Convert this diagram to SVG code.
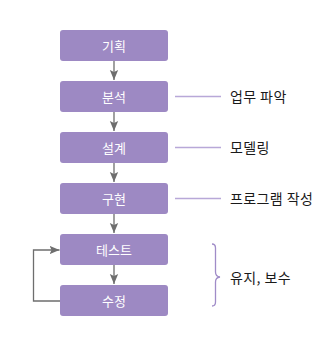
<svg xmlns="http://www.w3.org/2000/svg" width="328" height="347" viewBox="0 0 328 347">
<defs>
<style>
.box{fill:#9d89c3;}
.bt{font-family:"Noto Sans CJK KR","Noto Sans",sans-serif;font-size:13px;fill:#ffffff;text-anchor:middle;}
.lt{font-family:"Noto Sans CJK KR","Noto Sans",sans-serif;font-size:14px;letter-spacing:0.4px;fill:#1a1a1a;}
.conn{stroke:#6e6e6e;stroke-width:1.3;fill:none;}
.lead{stroke:#b8a8d8;stroke-width:1.3;fill:none;}
.brace{stroke:#a08cc8;stroke-width:1.3;fill:none;}
</style>
<marker id="ah" markerWidth="10" markerHeight="10" viewBox="0 0 12 10" refX="12" refY="5" markerUnits="userSpaceOnUse" orient="auto">
<path d="M0,0 L12,5 L0,10 L2.5,5 Z" fill="#6e6e6e"/>
</marker>
</defs>
<g id="connectors">
<line class="conn" x1="114" y1="61" x2="114" y2="80" marker-end="url(#ah)"/>
<line class="conn" x1="114" y1="112" x2="114" y2="131" marker-end="url(#ah)"/>
<line class="conn" x1="114" y1="163" x2="114" y2="182" marker-end="url(#ah)"/>
<line class="conn" x1="114" y1="214" x2="114" y2="233" marker-end="url(#ah)"/>
<line class="conn" x1="114" y1="265" x2="114" y2="284" marker-end="url(#ah)"/>
<path class="conn" d="M60,301 H33.5 V250 H59.5" marker-end="url(#ah)"/>
<line class="lead" x1="175" y1="96.5" x2="221" y2="96.5"/>
<line class="lead" x1="175" y1="147.5" x2="221" y2="147.5"/>
<line class="lead" x1="175" y1="198.5" x2="221" y2="198.5"/>
<path class="brace" d="M212,244 Q215.5,244 215.5,248 V272 Q215.5,276.5 220,277 Q215.5,277.5 215.5,282 V302 Q215.5,306 212,306"/>
</g>
<g id="n1"><rect class="box" x="60" y="30" width="108" height="31" rx="3"/><text class="bt" x="114" y="50.5">기획</text></g>
<g id="n2"><rect class="box" x="60" y="81" width="108" height="31" rx="3"/><text class="bt" x="114" y="101.5">분석</text></g>
<g id="n3"><rect class="box" x="60" y="132" width="108" height="31" rx="3"/><text class="bt" x="114" y="152.5">설계</text></g>
<g id="n4"><rect class="box" x="60" y="183" width="108" height="31" rx="3"/><text class="bt" x="114" y="203.5">구현</text></g>
<g id="n5"><rect class="box" x="60" y="234" width="108" height="31" rx="3"/><text class="bt" x="114" y="254.5">테스트</text></g>
<g id="n6"><rect class="box" x="60" y="285" width="108" height="31" rx="3"/><text class="bt" x="114" y="305.5">수정</text></g>
<g id="l1"><text class="lt" x="230" y="102">업무 파악</text></g>
<g id="l2"><text class="lt" x="230" y="153">모델링</text></g>
<g id="l3"><text class="lt" x="230" y="204">프로그램 작성</text></g>
<g id="l4"><text class="lt" x="230" y="282.5">유지, 보수</text></g>
</svg>
